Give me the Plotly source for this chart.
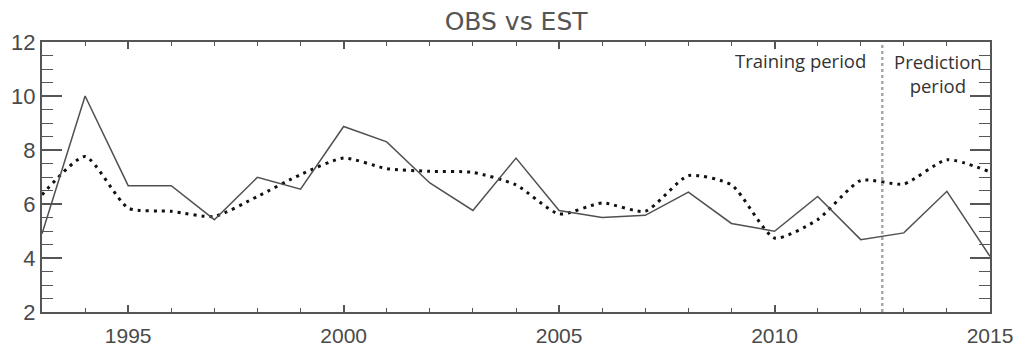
import plotly.graph_objects as go

years = list(range(1993, 2016))
obs = [4.9, 10.0, 6.68, 6.68, 5.42, 6.99, 6.55, 8.87, 8.30, 6.78, 5.76, 7.70,
       5.76, 5.50, 5.58, 6.44, 5.28, 4.99, 6.28, 4.68, 4.93, 6.47, 4.06]
est = [6.34, 7.76, 5.85, 5.73, 5.54, 6.28, 7.09, 7.70, 7.31, 7.21, 7.17, 6.71,
       5.63, 6.04, 5.73, 7.05, 6.71, 4.74, 5.42, 6.87, 6.74, 7.64, 7.19]
split_year = 2012.5
x_ticks = [1995, 2000, 2005, 2010, 2015]
y_ticks = [2, 4, 6, 8, 10, 12]

axis_col = "#555555"
text_col = "#4a4a4a"

fig = go.Figure()
fig.add_trace(go.Scatter(x=years, y=est, mode="lines", name="EST",
                         line=dict(color="#111111", width=3, dash="3px,5px",
                                   shape="spline", smoothing=0.6)))
fig.add_trace(go.Scatter(x=years, y=obs, mode="lines", name="OBS",
                         line=dict(color="#505050", width=1.5)))
fig.add_trace(go.Scatter(x=[split_year, split_year], y=[2, 12], mode="lines",
                         line=dict(color="#a8a8a8", width=2.5, dash="3px,3px"),
                         showlegend=False))

fig.update_layout(
    width=1023, height=351,
    margin=dict(l=42, r=33, t=42, b=39, autoexpand=False),
    paper_bgcolor="white", plot_bgcolor="white",
    showlegend=False,
    title=dict(text="OBS vs EST", x=0.5045, xanchor="center", y=0.94, yanchor="middle",
               font=dict(family="DejaVu Sans", size=25, color="#555555")),
    font=dict(family="Liberation Sans", color=text_col),
)
fig.update_xaxes(range=[1993, 2015], tickvals=x_ticks, ticks="inside", ticklen=7,
                 tickwidth=1.5, tickcolor=axis_col, showline=True, linecolor=axis_col,
                 linewidth=2, mirror="ticks", showgrid=False, zeroline=False,
                 automargin=False, ticklabelstandoff=4,
                 tickfont=dict(size=21, color=text_col),
                 minor=dict(ticks="inside", dtick=1, ticklen=4, tickwidth=1.2,
                            tickcolor=axis_col, showgrid=False))
fig.update_yaxes(range=[2, 12], tickvals=y_ticks, ticks="inside", ticklen=20,
                 tickwidth=1.5, tickcolor=axis_col, showline=True, linecolor=axis_col,
                 linewidth=2, mirror="ticks", showgrid=False, zeroline=False,
                 automargin=False,
                 tickfont=dict(size=22, color=text_col),
                 minor=dict(ticks="inside", dtick=0.5, ticklen=11, tickwidth=1.2,
                            tickcolor=axis_col, showgrid=False))

fig.add_annotation(x=split_year, xref="x", xshift=-14, y=0.93, yref="paper",
                   text="Training period", showarrow=False, xanchor="right",
                   yanchor="middle", font=dict(family="Open Sans", size=18.5, color="#333333"))
fig.add_annotation(x=split_year, xref="x", xshift=56, y=0.885, yref="paper",
                   text="Prediction<br>period", showarrow=False, xanchor="center",
                   yanchor="middle", font=dict(family="Open Sans", size=18.5, color="#333333"))

fig.write_html("out.html", config={"displayModeBar": False},
               post_script="document.body.style.margin='0';")
